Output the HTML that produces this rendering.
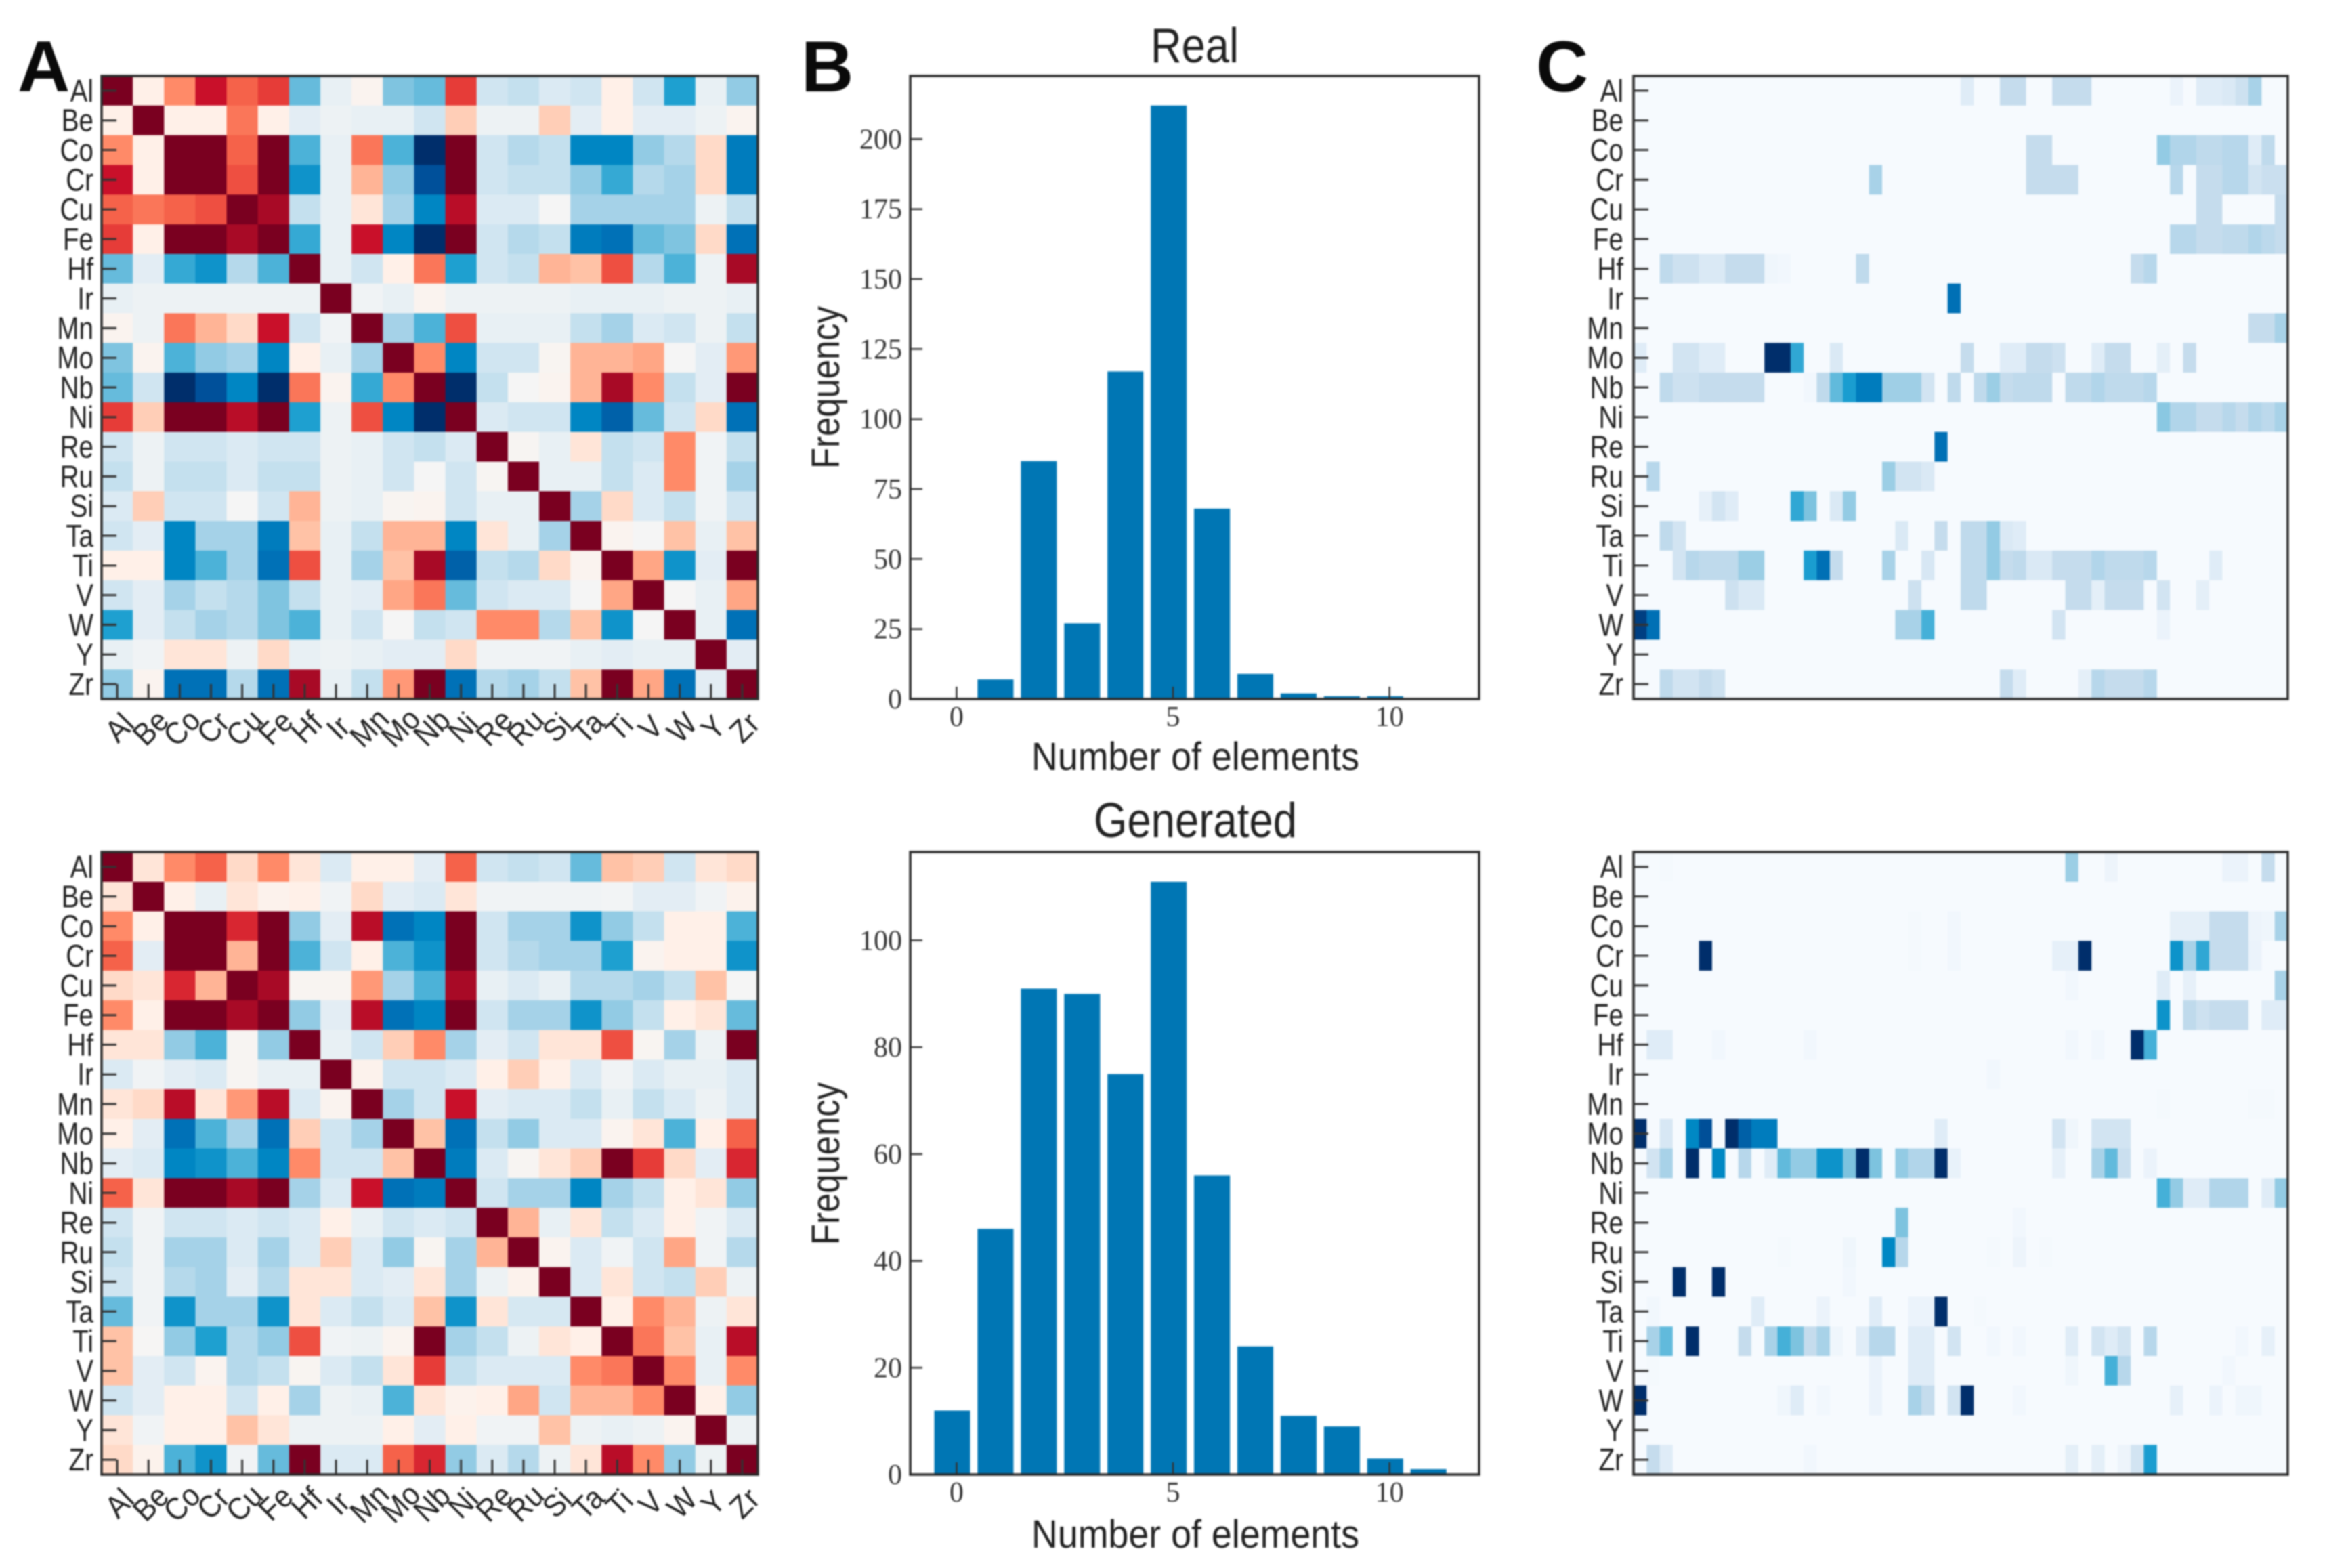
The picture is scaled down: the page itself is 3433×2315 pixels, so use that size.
<!DOCTYPE html>
<html lang="en">
<head>
<meta charset="utf-8">
<title>Element correlation, count and latent heatmaps: real vs generated</title>
<style>
html,body{margin:0;padding:0;background:#fff;}
svg{display:block;filter:blur(1.1px);}
text{fill:#222;}
.sans{font-family:"Liberation Sans",sans-serif;}
.serif{font-family:"Liberation Serif",serif;fill:#333;}
.letter{font-family:"Liberation Sans",sans-serif;font-weight:700;font-size:107px;fill:#0a0a0a;}
</style>
</head>
<body>
<svg id="figure" xmlns="http://www.w3.org/2000/svg" width="3433" height="2315" viewBox="0 0 3433 2315">
  <rect x="0" y="0" width="3433" height="2315" fill="#fff"/>
  <text class="letter" x="26" y="135">A</text>
  <text class="letter" x="1183" y="135">B</text>
  <text class="letter" x="2268" y="135">C</text>
  <g id="corr-real"></g>
  <g id="corr-gen"></g>
  <g id="hist-real"></g>
  <g id="hist-gen"></g>
  <g id="latent-real"></g>
  <g id="latent-gen"></g>
  <text class="sans" x="1772" y="92" font-size="72" text-anchor="middle" textLength="130" lengthAdjust="spacingAndGlyphs" transform="translate(-8,0)">Real</text>
  <text class="sans" x="1773" y="1236" font-size="72" text-anchor="middle" textLength="300" lengthAdjust="spacingAndGlyphs" transform="translate(-8,0)">Generated</text>
  <text class="sans" x="1773" y="1137" font-size="58" text-anchor="middle" textLength="484" lengthAdjust="spacingAndGlyphs" transform="translate(-8,0)">Number of elements</text>
  <text class="sans" x="1773" y="2285" font-size="58" text-anchor="middle" textLength="484" lengthAdjust="spacingAndGlyphs" transform="translate(-8,0)">Number of elements</text>
  <text class="sans" transform="translate(1239,572) rotate(-90)" font-size="58" text-anchor="middle" textLength="240" lengthAdjust="spacingAndGlyphs">Frequency</text>
  <text class="sans" transform="translate(1239,1718) rotate(-90)" font-size="58" text-anchor="middle" textLength="240" lengthAdjust="spacingAndGlyphs">Frequency</text>
</svg>
<script>
const elements = ["Al","Be","Co","Cr","Cu","Fe","Hf","Ir","Mn","Mo","Nb","Ni","Re","Ru","Si","Ta","Ti","V","W","Y","Zr"];

// Correlations, in tenths (-10 .. 10)
const corrReal = [
[10,1,5,8,6,7,-4.5,-.5,.5,-4,-4.5,7,-1.5,-2,-1,-1.5,1,-1.5,-6,-.5,-3.5],
[1,10,1,1,5.5,1,-.7,-.3,-.5,-.5,-1.5,2.5,-.3,-.3,2.5,-.7,1,-.7,-.7,-.3,.5],
[5,1,10,10,6,10,-5,-.5,5.5,-5,-10,10,-1.5,-2.5,-2,-7,-7,-3.5,-2.5,2,-7.5],
[8,1,10,10,6.5,10,-6.5,-.5,3.5,-3.5,-9,10,-1.5,-2,-2,-3.5,-5.5,-2.5,-3,2,-7.5],
[6,5.5,6,6.5,10,9,-2,-.5,1.5,-3,-7,8.5,-1,-1,0,-3,-3,-3,-3,-.3,-2],
[7,1,10,10,9,10,-5.5,-.5,8,-7,-10,10,-1.5,-2.5,-2,-7.5,-8,-4.5,-4,2,-8],
[-4.5,-.7,-5.5,-6.5,-2.5,-5,10,-.5,-1.5,1,5.5,-6,-1.5,-2,3.5,3,6.5,-2.5,-5,-.3,9],
[-.5,-.3,-.3,-.3,-.3,-.3,-.3,10,-.2,-.5,.5,-.3,-.3,-.3,-.3,-.5,-.5,-.5,-.3,-.3,-.5],
[.5,-.3,5.5,3.5,2,8,-1.5,-.2,10,-3,-5,6.5,-.5,-.5,-.5,-2,-3,-1,-1.5,-.3,-2],
[-4,.5,-5,-3.5,-3,-7,1,-.5,-3,10,5,-7,-1.5,-1.5,.3,3.5,3.5,4,0,-.7,4.5],
[-4.5,-1.5,-10,-9,-7,-10,5.5,.5,-5.5,5,10,-10,-2,0,.5,3.5,9,5,-2,-.7,10],
[7,2.5,10,10,8.5,10,-6,-.3,6.5,-7,-10,10,-1,-1.5,-1.5,-7,-8.5,-4.5,-1.5,2,-8],
[-1.5,-.3,-1.5,-1.5,-1,-1.5,-1.5,-.3,-.5,-1.5,-2,-1,10,.2,-.5,1.5,-2,-1.5,5,-.2,-2],
[-2,-.3,-2,-2,-1,-2,-2,-.3,-.5,-1.5,0,-1.5,.2,10,-.5,-.5,-2,-1,5,-.2,-3],
[-1,2.5,-1.5,-1.5,0,-1.5,3.5,-.3,-.5,.3,.5,-1.5,-.5,-.5,10,-3,2,-1,-2,-.2,-1.5],
[-1.5,-.7,-7,-3,-3,-7.5,3,-.5,-2,3.5,3.5,-7,1.5,-.5,-3,10,.5,0,3,-.5,3],
[1,1,-7,-5,-3,-8,6.5,-.5,-3,3,9,-8.5,-2,-2.5,2,.5,10,4,-6.5,-.7,10],
[-1.5,-.7,-3,-2,-2.5,-4,-2,-.5,-.7,4,5.5,-4.5,-1.5,-1,-1,0,4,10,0,-.5,4],
[-6,-.7,-2,-3,-2.5,-4,-5,-.5,-1.5,0,-2,-1.5,5,5,-2.5,3,-6.5,0,10,-.5,-8],
[-.5,-.2,1.5,1.5,-.3,2,-.5,-.3,-.5,-.7,-.7,2,-.2,-.2,-.2,-.5,-.7,-.5,-.5,10,-.7],
[-3.5,.5,-8,-8,-2.5,-8,9,-.5,-2,4.5,10,-8,-2.5,-3,-2,3,10,4,-8,-.7,10]
];
const corrGen = [
[10,1.5,5,6,2,5,1.5,-1,1,1,-.7,6,-1.5,-2,-1.5,-4.5,3,2.5,-1.5,1.5,2],
[1.5,10,1,-.5,1.5,.7,1,-.2,2,-.7,-1,1.5,-.2,-.2,-.2,-.2,-.1,-.7,-.7,-.2,.7],
[5,1,10,10,7.5,10,-3.5,-.7,8.5,-8,-7,10,-1.5,-3,-3,-6.5,-3.5,-2,1,1,-5],
[6,-.7,10,10,3.5,10,-5,-1.5,1,-5,-6.5,10,-1.5,-2.5,-3,-3,-6,.5,1,1,-6.5],
[2,1.5,7.5,3.5,10,9,.3,.3,4.5,-3,-5,9,-.5,-1,-.5,-2.5,-2.5,-3,-2,3,0],
[5,1,10,10,9,10,-3.5,-.7,8.5,-8,-7,10,-1.5,-3,-3,-6.5,-3.5,-2,1,1.5,-4.5],
[1.5,1.5,-3.5,-5,.2,-3.5,10,-.5,-1.5,2.5,5,-3,-.7,-1.5,1.5,1.5,6.5,.3,-3,-.3,10],
[-1,-.2,-.7,-1,.2,-.5,-.5,10,.7,-1.5,-1.5,-1,1,2.5,1,-1,-.2,-1,-.5,-.5,-1],
[1.5,2,8.5,1.5,4.5,8.5,-1,.5,10,-3,-1.5,8,-.7,-1,-1,-2,-.5,-2,-1,-.3,-1],
[1,-.7,-8,-5,-3,-8,2.5,-1.5,-3,10,3,-8,-2,-3.5,-1,-1,.5,1.5,-5,1,6],
[-.7,-1,-7,-6.5,-5,-7,5,-1.5,-1.5,3,10,-7.5,-1,.2,1.5,2.5,10,7,2,-.7,7.5],
[6,1.5,10,10,9,10,-3,-1,8,-8,-7.5,10,-1.5,-3,-3,-7,-3,-2,1,1.5,-3.5],
[-1.5,-.2,-1.5,-1.5,-1,-1.5,-1,1,-.5,-1.5,-1,-1.5,10,3.5,-.5,1.5,-2,-1,1,-.2,-1],
[-2,-.2,-3,-3,-1,-3,-1,2.5,-1,-3.5,.3,-3,3.5,10,.5,-1,-.2,-1.5,4,-.2,-2.5],
[-1.5,-.2,-2.5,-3,-.7,-2.5,1.5,1.5,-1,-.7,1.5,-3,-.3,.7,10,-1,1.5,-1.5,-2,2.5,-.3],
[-4.5,-.2,-6.5,-3,-3,-6.5,1.5,-1,-2,-1,3,-6.5,1.5,-1.2,-1.2,10,1,5,3.5,-.3,1.5],
[3,.1,-3.5,-6,-2.5,-3.5,6.5,-.2,-.3,.5,10,-3,-2,-.3,1.5,1,10,5.5,3,-.5,8.5],
[3,-.7,-1.5,.5,-2.5,-2,.3,-1,-2,1.5,7,-2,-1,-1,-1,5,5.5,10,5,-.5,5],
[-1.5,-.7,1,1,-1.5,1,-3,-.3,-.5,-5,1.5,.7,1,4,-1.5,3.5,3.5,5,10,1,-3.5],
[1.5,-.2,1,1,3,1.5,-.3,-.3,-.3,1,-.7,1,-.2,-.2,3,-.3,-.5,-.3,.5,10,-.3],
[2,.7,-5,-6.5,-.2,-4.5,10,-1,-1,6,7.5,-3.5,-1,-2.5,-.3,1.5,8.5,5,-3.5,-.3,10]
];

// Histograms: number of elements vs frequency
const elementCounts = [0,1,2,3,4,5,6,7,8,9,10,11];
const freqReal = [0,7,85,27,117,212,68,9,2,1,1,0];
const freqGen = [12,46,91,90,75,111,56,24,11,9,3,1];
const yTicksReal = [0,25,50,75,100,125,150,175,200];
const yTicksGen = [0,20,40,60,80,100];
const xTicks = [0,5,10];

// Latent activations: per element, a list of [latent dimension, strength 0..10]
const latentDims = 50;
const latentReal = [
[[25,1],[28,2],[29,2],[32,2],[33,2],[34,2],[41,.5],[43,1],[44,1],[45,1.2],[46,1.7],[47,3]],
[],
[[30,2],[31,2],[40,3.5],[41,2.7],[42,2.7],[43,2.2],[44,2.2],[45,2.5],[46,2.5],[47,1],[48,2.2]],
[[18,3],[30,2],[31,2],[32,2],[33,2],[41,2.5],[43,2],[44,2],[45,2.5],[46,2.5],[47,1.5],[48,1.8],[49,1.8]],
[[43,2],[44,2],[49,2]],
[[41,2.5],[42,2.5],[43,2],[44,2],[45,2.2],[46,2.2],[47,2.7],[48,2.3],[49,2]],
[[2,2.2],[3,1.7],[4,1.7],[5,1.2],[6,1.2],[7,2],[8,2],[9,2],[10,.3],[11,.2],[17,2.2],[38,2],[39,2.5]],
[[24,8]],
[[47,2],[48,2],[49,3]],
[[0,1],[3,1.5],[4,1.5],[5,1],[6,1],[10,10],[11,10],[12,5.5],[15,1.2],[25,2],[28,1],[29,1],[30,2],[31,2],[32,1.7],[35,1],[36,2],[37,2],[40,.8],[42,2]],
[[2,2.2],[3,1.7],[4,1.7],[5,2],[6,2],[7,2],[8,2],[9,2],[13,.2],[14,2.2],[15,4.5],[16,6],[17,7.5],[18,7.5],[19,3.2],[20,3.2],[21,3.2],[22,1.5],[24,2.2],[26,2.2],[27,3.3],[28,2],[29,2.2],[30,2.2],[31,2.2],[33,2.2],[34,2.2],[35,2.7],[36,2.2],[37,2.2],[38,2.2],[39,2.5]],
[[40,3.7],[41,2.7],[42,2.7],[43,2],[44,2],[45,2.5],[46,2],[47,2.7],[48,2.3],[49,3]],
[[23,8]],
[[1,2.5],[19,3.3],[20,1.5],[21,1.5],[22,1.2]],
[[5,.7],[6,1.5],[7,1],[12,5.5],[13,4],[15,1.2],[16,3.5]],
[[2,2.2],[3,1.5],[20,1.2],[23,2],[25,2.2],[26,2.2],[27,3.5],[28,1.2],[29,1]],
[[3,1.5],[4,2.5],[5,2.2],[6,2.2],[7,2.2],[8,3.3],[9,3.3],[13,6],[14,8],[15,2],[19,3],[22,1.3],[25,2.2],[26,2.2],[27,3.5],[28,2],[29,2.2],[30,1.2],[31,1.2],[32,2],[33,2],[34,2],[35,2.7],[36,2.2],[37,2.2],[38,2.2],[39,2.5],[44,1]],
[[7,1.7],[8,1.2],[9,1.2],[21,1.7],[25,2.2],[26,2.2],[33,2],[34,2],[35,.8],[36,2],[37,2],[38,2],[40,1.5],[43,.8]],
[[0,9.5],[1,8],[20,3],[21,3],[22,5],[32,1.5],[40,.5]],
[],
[[2,2.2],[3,1.5],[4,1.5],[5,2],[6,1.7],[28,2],[29,1],[34,.8],[35,2.5],[36,2],[37,2],[38,2],[39,2.5]]
];
const latentGen = [
[[2,.1],[33,3.3],[36,.4],[45,.5],[46,.5],[48,2]],
[],
[[21,.1],[24,.2],[41,.8],[42,.8],[43,.8],[44,2],[45,2],[46,2],[47,.4],[48,.3],[49,3]],
[[5,10],[21,.1],[24,.2],[32,.7],[33,.7],[34,10],[41,6.5],[42,3],[43,5.5],[44,2],[45,2],[46,2],[47,.5]],
[[33,.2],[40,1],[42,.7],[49,3]],
[[40,6.5],[42,2.2],[43,1.7],[44,2],[45,2],[46,2],[48,1],[49,1]],
[[1,1],[2,1],[6,.2],[13,.2],[33,.2],[35,.2],[38,10],[39,5]],
[[27,.2]],
[[40,.1],[47,.1],[48,.1]],
[[0,10],[2,1.3],[4,7],[5,9],[7,10],[8,8.5],[9,7.5],[10,7.5],[23,1],[32,1.5],[33,.3],[35,1.5],[36,1.5],[37,1.5]],
[[1,1.5],[2,3],[4,10],[6,7],[8,2.5],[10,1],[11,4.5],[12,3.5],[13,3.5],[14,6.5],[15,6.5],[16,4],[17,10],[18,4],[20,3.5],[21,2.7],[22,2.7],[23,10],[24,.6],[32,.7],[35,3],[36,4.5],[37,1.8],[39,.5]],
[[40,5],[41,3.5],[42,1],[43,1],[44,2.7],[45,2.7],[46,2.7],[48,1],[49,3.5]],
[[20,4],[29,.2]],
[[11,.1],[16,.3],[19,7],[20,2.5],[27,.1],[29,.4],[31,.1]],
[[3,10],[6,10],[16,.2]],
[[1,.2],[9,1],[14,.5],[18,1],[21,.5],[22,.5],[23,10],[26,.1]],
[[1,3],[2,4.5],[4,10],[8,2],[10,3],[11,5],[12,4],[13,2],[14,3],[15,.3],[17,1],[18,2.5],[19,2.5],[21,1],[22,1],[24,1.5],[27,.2],[29,.2],[33,1],[35,1.5],[36,1],[37,1.5],[39,2.5],[46,.2],[48,.7]],
[[1,.1],[18,.5],[21,1],[22,1],[33,.3],[36,5],[37,2.5],[45,.2]],
[[0,10],[11,.3],[12,1],[14,.2],[18,.5],[21,3],[22,2],[24,1.5],[25,10],[29,.2],[41,.7],[44,.5],[46,.3],[47,.3]],
[],
[[1,2],[2,1],[13,.2],[33,.8],[35,.8],[37,.4],[38,1.5],[39,6]]
];

const divergingRamp = ["#002e6b","#00509a","#0071b7","#0086c3","#1ea0d0","#4cb2d8","#7fc4e0","#a5d2e8","#c4e0ee","#dbeaf3","#f5f5f5","#fff0e8","#ffdac8","#ffc2a6","#ffa685","#ff8a68","#f5624a","#e63c38","#c9102a","#a80a26","#7a0020"];
const blueRamp = ["#f6fafe","#dfecf7","#c5dced","#a8d2e8","#7dc3df","#45b0d8","#1a9dd0","#0088c4","#0070b5","#004f98","#002e6b"];

const SVGNS = "http://www.w3.org/2000/svg";
function mk(parent, tag, attrs, text) {
  const n = document.createElementNS(SVGNS, tag);
  for (const k in attrs) n.setAttribute(k, attrs[k]);
  if (text !== undefined) n.textContent = text;
  parent.appendChild(n);
  return n;
}
function hexToRgb(h) { return [1,3,5].map(i => parseInt(h.substr(i,2),16)); }
function rampColor(ramp, t) {
  const p = Math.max(0, Math.min(1, t)) * (ramp.length - 1);
  const i = Math.min(ramp.length - 2, Math.floor(p));
  const f = p - i;
  const a = hexToRgb(ramp[i]), b = hexToRgb(ramp[i+1]);
  return "rgb(" + a.map((c,j) => Math.round(c + (b[j]-c)*f)).join(",") + ")";
}
function linear(d0, d1, r0, r1) { return v => r0 + (v-d0)/(d1-d0)*(r1-r0); }
// Liberation Sans is wider than the reference's sans face; narrow labels to match
function narrow(textEl, factor) {
  textEl.setAttribute("textLength", (textEl.getComputedTextLength() * factor).toFixed(1));
  textEl.setAttribute("lengthAdjust", "spacingAndGlyphs");
}

function yTickLabels(g, box, labelX, ys) {
  elements.forEach((name, r) => {
    const y = ys(r + 0.5);
    const t = mk(g, "line", {x1:box.x0, x2:box.x0+22, y1:y, y2:y, stroke:"#333", "stroke-width":3});
    
    
    const l = mk(g, "text", {x:labelX, y:y+16, "font-size":46, "text-anchor":"end", class:"sans"}, name);
    
    
    narrow(l, 0.84);
  });
}
function frame(g, box) {
  const f = mk(g, "rect", {x:box.x0, y:box.y0, width:box.x1-box.x0, height:box.y1-box.y0, fill:"none", stroke:"#2a2a2a", "stroke-width":3.5});
  
  
}

function drawCorr(id, matrix, box) {
  const g = document.getElementById(id);
  const xs = linear(0, elements.length, box.x0, box.x1);
  const ys = linear(0, elements.length, box.y0, box.y1);
  matrix.forEach((row, r) => row.forEach((v, c) => {
    const cell = mk(g, "rect", {x:xs(c), y:ys(r), width:xs(c+1)-xs(c)+.5, height:ys(r+1)-ys(r)+.5, fill:rampColor(divergingRamp, (v+10)/20)});
    
    
  }));
  frame(g, box);
  yTickLabels(g, box, box.x0-12, ys);
  elements.forEach((name, c) => {
    const x = xs(c + 0.5);
    const t = mk(g, "line", {x1:x, x2:x, y1:box.y1, y2:box.y1-22, stroke:"#333", "stroke-width":3});
    
    
    const l = mk(g, "text", {transform:"translate("+(x+3)+","+(box.y1+42)+") rotate(-45)", y:16, "font-size":46, "text-anchor":"middle", class:"sans"}, name);
    
    
    narrow(l, 0.92);
  });
}

function drawLatent(id, rows, box) {
  const g = document.getElementById(id);
  const xs = linear(0, latentDims, box.x0, box.x1);
  const ys = linear(0, elements.length, box.y0, box.y1);
  rows.forEach((pairs, r) => {
    const vals = new Map(pairs);
    for (let c = 0; c < latentDims; c++) {
      const v = vals.get(c) || 0;
      const cell = mk(g, "rect", {x:xs(c), y:ys(r), width:xs(c+1)-xs(c)+.5, height:ys(r+1)-ys(r)+.5, fill:rampColor(blueRamp, v/10)});
      
      
    }
  });
  frame(g, box);
  yTickLabels(g, box, box.x0-15, ys);
}

function drawHist(id, cats, values, yTicks, box) {
  const g = document.getElementById(id);
  const xs = linear(-1.07, 12.07, box.x0, box.x1);
  const ymax = Math.max.apply(null, values) * 1.05;
  const ys = linear(0, ymax, box.y1, box.y0);
  const barWidth = 0.83;
  cats.forEach((cat, i) => {
    const c = cat - 0.1;
    const b = mk(g, "rect", {x:xs(c-barWidth/2), y:ys(values[i]), width:xs(c+barWidth/2)-xs(c-barWidth/2), height:box.y1-ys(values[i]), fill:"#0076b4"});
    
    
  });
  yTicks.forEach(v => {
    const y = ys(v);
    const t = mk(g, "line", {x1:box.x0, x2:box.x0+18, y1:y, y2:y, stroke:"#333", "stroke-width":2.5});
    
    
    const l = mk(g, "text", {x:box.x0-12, y:y+14, "font-size":42, "text-anchor":"end", class:"serif"}, v);
    
    
  });
  xTicks.forEach(v => {
    const x = xs(v);
    const t = mk(g, "line", {x1:x, x2:x, y1:box.y1, y2:box.y1-18, stroke:"#333", "stroke-width":2.5});
    
    
    const l = mk(g, "text", {x:x, y:box.y1+40, "font-size":42, "text-anchor":"middle", class:"serif"}, v);
    
    
  });
  frame(g, box);
}

drawCorr("corr-real", corrReal, {x0:150, x1:1119, y0:112, y1:1032});
drawCorr("corr-gen", corrGen, {x0:150, x1:1119, y0:1258, y1:2177});
drawHist("hist-real", elementCounts, freqReal, yTicksReal, {x0:1344, x1:2184, y0:112, y1:1032});
drawHist("hist-gen", elementCounts, freqGen, yTicksGen, {x0:1344, x1:2184, y0:1258, y1:2177});
drawLatent("latent-real", latentReal, {x0:2412, x1:3378, y0:112, y1:1032});
drawLatent("latent-gen", latentGen, {x0:2412, x1:3378, y0:1258, y1:2177});
</script>
</body>
</html>
